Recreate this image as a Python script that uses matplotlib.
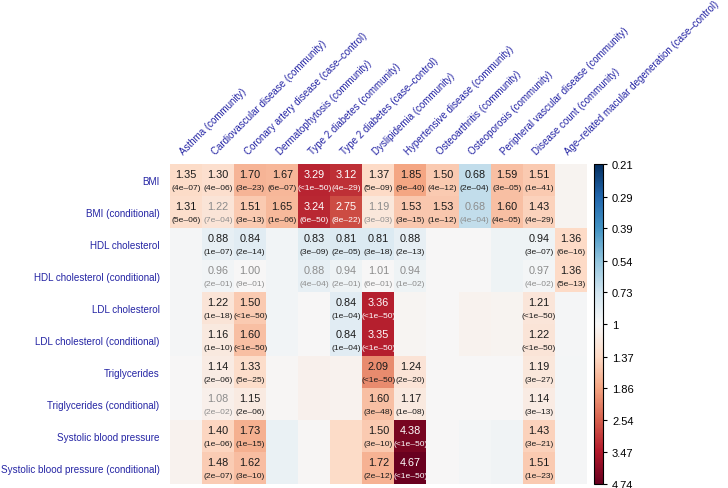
import numpy as np
import matplotlib
matplotlib.use("Agg")
import matplotlib.pyplot as plt
from matplotlib.colors import LogNorm

plt.rcParams['font.family'] = ['Liberation Sans', 'DejaVu Sans']

rows = ["BMI", "BMI (conditional)", "HDL cholesterol", "HDL cholesterol (conditional)",
        "LDL cholesterol", "LDL cholesterol (conditional)", "Triglycerides",
        "Triglycerides (conditional)", "Systolic blood pressure",
        "Systolic blood pressure (conditional)"]

cols = ["Asthma (community)", "Cardiovascular disease (community)",
        "Coronary artery disease (case\u2013control)", "Dermatophytosis (community)",
        "Type 2 diabetes (community)", "Type 2 diabetes (case\u2013control)",
        "Dyslipidemia (community)", "Hypertensive disease (community)",
        "Osteoarthritis (community)", "Osteoporosis (community)",
        "Peripheral vascular disease (community)", "Disease count (community)",
        "Age\u2013related macular degeneration (case\u2013control)"]

# odds ratios (cells without labels are non-significant background values)
or_bmi = [1.35, 1.30, 1.70, 1.67, 3.29, 3.12, 1.37, 1.85, 1.50, 0.68, 1.59, 1.51, 1.04]
or_bmi_c = [1.31, 1.22, 1.51, 1.65, 3.24, 2.75, 1.19, 1.53, 1.53, 0.68, 1.60, 1.43, 1.04]
or_hdl = [0.98, 0.88, 0.84, 0.96, 0.83, 0.81, 0.81, 0.88, 1.00, 1.00, 0.93, 0.94, 1.36]
or_hdl_c = [0.98, 0.96, 1.00, 0.96, 0.88, 0.94, 1.01, 0.94, 1.00, 1.00, 0.93, 0.97, 1.36]
or_ldl = [0.98, 1.22, 1.50, 0.96, 1.00, 0.84, 3.36, 1.03, 1.00, 1.05, 1.04, 1.21, 0.98]
or_ldl_c = [0.98, 1.16, 1.60, 0.96, 1.00, 0.84, 3.35, 1.03, 1.00, 1.05, 1.04, 1.22, 0.98]
or_tg = [1.01, 1.14, 1.33, 1.02, 1.07, 1.06, 2.09, 1.24, 1.00, 1.00, 1.00, 1.19, 0.97]
or_tg_c = [1.01, 1.08, 1.15, 1.02, 1.07, 1.06, 1.60, 1.17, 1.00, 1.00, 1.00, 1.14, 0.97]
or_sbp = [1.05, 1.40, 1.73, 0.90, 1.02, 1.35, 1.50, 4.38, 1.00, 0.97, 0.95, 1.43, 0.98]
or_sbp_c = [1.05, 1.48, 1.62, 0.90, 1.02, 1.35, 1.72, 4.67, 1.00, 0.97, 0.95, 1.51, 0.98]

N = None
p_bmi = ["4e-07", "4e-06", "3e-23", "6e-07", "<1e-50", "4e-29", "5e-09", "9e-40", "4e-12", "2e-04", "3e-05", "1e-41", N]
p_bmi_c = ["5e-06", "7e-04", "3e-13", "1e-06", "6e-50", "8e-22", "3e-03", "3e-15", "1e-12", "4e-04", "4e-05", "4e-29", N]
p_hdl = [N, "1e-07", "2e-14", N, "3e-09", "2e-05", "3e-18", "2e-13", N, N, N, "3e-07", "6e-16"]
p_hdl_c = [N, "2e-01", "9e-01", N, "4e-04", "2e-01", "6e-01", "1e-02", N, N, N, "4e-02", "5e-13"]
p_ldl = [N, "1e-18", "<1e-50", N, N, "1e-04", "<1e-50", N, N, N, N, "<1e-50", N]
p_ldl_c = [N, "1e-10", "<1e-50", N, N, "1e-04", "<1e-50", N, N, N, N, "<1e-50", N]
p_tg = [N, "2e-06", "5e-25", N, N, N, "<1e-50", "2e-20", N, N, N, "3e-27", N]
p_tg_c = [N, "2e-02", "2e-06", N, N, N, "3e-48", "1e-08", N, N, N, "3e-13", N]
p_sbp = [N, "1e-06", "1e-15", N, N, N, "3e-10", "<1e-50", N, N, N, "3e-21", N]
p_sbp_c = [N, "2e-07", "3e-10", N, N, N, "2e-12", "<1e-50", N, N, N, "1e-23", N]

cbar_ticks = [0.21, 0.29, 0.39, 0.54, 0.73, 1, 1.37, 1.86, 2.54, 3.47, 4.74]

values = np.array([or_bmi, or_bmi_c, or_hdl, or_hdl_c, or_ldl, or_ldl_c,
                   or_tg, or_tg_c, or_sbp, or_sbp_c])
pvals = [p_bmi, p_bmi_c, p_hdl, p_hdl_c, p_ldl, p_ldl_c, p_tg, p_tg_c, p_sbp, p_sbp_c]

W, H = 728, 489
fig = plt.figure(figsize=(W / 100, H / 100), dpi=100)
ax = fig.add_axes([170 / W, 1 - 485 / H, (587 - 170) / W, (485 - 165) / H])
cax = fig.add_axes([594 / W, 1 - 485 / H, 9 / W, (485 - 165) / H])

cmap = plt.get_cmap("RdBu_r")
norm = LogNorm(vmin=1 / 4.74, vmax=4.74)
im = ax.imshow(values, cmap=cmap, norm=norm, aspect="auto", interpolation="nearest")

label_color = "#2424a4"
ax.set_xticks([])
ax.set_yticks(range(len(rows)))
ax.set_yticklabels(rows, fontsize=7.1, color=label_color)
ax.tick_params(axis="y", length=0, pad=7.5)
for s in ax.spines.values():
    s.set_visible(False)

for j, c in enumerate(cols):
    ax.text(j - 0.02, -0.75, c, rotation=45, ha="left", va="bottom", rotation_mode="anchor",
            fontsize=7.0, color=label_color, clip_on=False)

for i in range(values.shape[0]):
    for j in range(values.shape[1]):
        p = pvals[i][j]
        if p is None:
            continue
        v = values[i, j]
        r, g, b, _ = cmap(norm(v))
        lum = 0.299 * r + 0.587 * g + 0.114 * b
        if lum < 0.45:
            col = "white"
        elif (not p.startswith("<")) and float(p) > 3e-4:
            col = "#8c8c8c"
        else:
            col = "#1a1a1a"
        ax.text(j, i - 0.2, f"{v:.2f}", ha="center", va="center", fontsize=7.8, color=col)
        ax.text(j, i + 0.25, "(" + p.replace("-", "\u2013") + ")", ha="center", va="center",
                fontsize=6.1, color=col)

cb = fig.colorbar(im, cax=cax)
cb.set_ticks(cbar_ticks)
cb.set_ticklabels([f"{t:g}" for t in cbar_ticks])
cb.minorticks_off()
cax.invert_yaxis()
cax.tick_params(labelsize=8, length=3, width=0.8)
cb.outline.set_linewidth(0.8)

fig.savefig("out.png", dpi=100)
